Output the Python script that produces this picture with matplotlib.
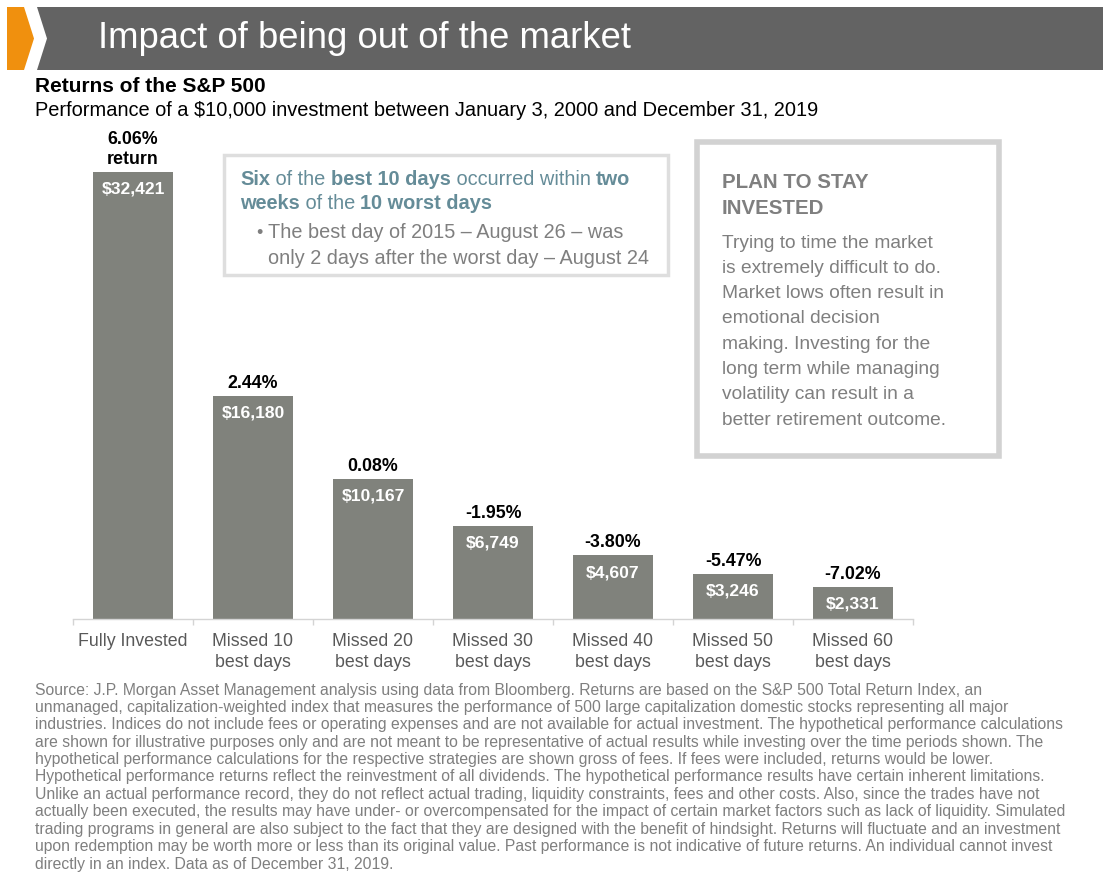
import matplotlib
matplotlib.use("Agg")
import matplotlib.pyplot as plt
from matplotlib import font_manager
from matplotlib.patches import Polygon, Rectangle

# ---- data ----
categories = ["Fully Invested", "Missed 10\nbest days", "Missed 20\nbest days",
              "Missed 30\nbest days", "Missed 40\nbest days", "Missed 50\nbest days",
              "Missed 60\nbest days"]
ending_values = [32421, 16180, 10167, 6749, 4607, 3246, 2331]
annual_returns = [6.06, 2.44, 0.08, -1.95, -3.80, -5.47, -7.02]

title = "Impact of being out of the market"
chart_title = "Returns of the S&P 500"
chart_subtitle = "Performance of a $10,000 investment between January 3, 2000 and December 31, 2019"

callout_lines = [
    [("Six", True), (" of the ", False), ("best 10 days", True),
     (" occurred within ", False), ("two", True)],
    [("weeks", True), (" of the ", False), ("10 worst days", True)],
]
callout_bullet = ["The best day of 2015 \u2013 August 26 \u2013 was",
                  "only 2 days after the worst day \u2013 August 24"]

plan_heading = ["PLAN TO STAY", "INVESTED"]
plan_body = ["Trying to time the market", "is extremely difficult to do.",
             "Market lows often result in", "emotional decision",
             "making. Investing for the", "long term while managing",
             "volatility can result in a", "better retirement outcome."]

footnote = [
    "Source: J.P. Morgan Asset Management analysis using data from Bloomberg. Returns are based on the S&P 500 Total Return Index, an",
    "unmanaged, capitalization-weighted index that measures the performance of 500 large capitalization domestic stocks representing all major",
    "industries. Indices do not include fees or operating expenses and are not available for actual investment. The hypothetical performance calculations",
    "are shown for illustrative purposes only and are not meant to be representative of actual results while investing over the time periods shown. The",
    "hypothetical performance calculations for the respective strategies are shown gross of fees. If fees were included, returns would be lower.",
    "Hypothetical performance returns reflect the reinvestment of all dividends. The hypothetical performance results have certain inherent limitations.",
    "Unlike an actual performance record, they do not reflect actual trading, liquidity constraints, fees and other costs. Also, since the trades have not",
    "actually been executed, the results may have under- or overcompensated for the impact of certain market factors such as lack of liquidity. Simulated",
    "trading programs in general are also subject to the fact that they are designed with the benefit of hindsight. Returns will fluctuate and an investment",
    "upon redemption may be worth more or less than its original value. Past performance is not indicative of future returns. An individual cannot invest",
    "directly in an index. Data as of December 31, 2019.",
]

# ---- styling ----
W, H = 1103, 873
BAR = "#80827c"
HEADER = "#636363"
ORANGE = "#f0900e"
TEAL = "#658c98"
GRAY_TXT = "#7f7f7f"
TICK_TXT = "#595959"

installed = {f.name for f in font_manager.fontManager.ttflist}
SANS = "Liberation Sans" if "Liberation Sans" in installed else "DejaVu Sans"
NARROW = "Liberation Sans Narrow" if "Liberation Sans Narrow" in installed else SANS
plt.rcParams["font.family"] = SANS

fig = plt.figure(figsize=(W / 100, H / 100), dpi=100)
fig.patch.set_facecolor("white")


def fx(x):
    return x / W


def fy(y):
    return 1 - y / H


def ptext(x, y, s, **kw):
    return fig.text(fx(x), fy(y), s, **kw)


# ---- header band ----
fig.patches.append(Polygon([(fx(7), fy(7)), (fx(24), fy(7)), (fx(34), fy(38.5)),
                            (fx(24), fy(70)), (fx(7), fy(70))],
                           closed=True, transform=fig.transFigure,
                           facecolor=ORANGE, edgecolor="none"))
fig.patches.append(Polygon([(fx(37), fy(7)), (fx(W), fy(7)), (fx(W), fy(70)),
                            (fx(37), fy(70)), (fx(47), fy(38.5))],
                           closed=True, transform=fig.transFigure,
                           facecolor=HEADER, edgecolor="none"))
title_size = 26.3 if NARROW == SANS else 31
ptext(98, 39, title, color="white", fontsize=title_size, family=NARROW,
      va="center", ha="left")

ptext(35, 87, chart_title, fontsize=15, fontweight="bold", color="black",
      va="center", ha="left")
ptext(35, 111, chart_subtitle, fontsize=14.4, color="black", va="center", ha="left")

# ---- bar chart ----
base_px, top_px = 619, 130
left_px, right_px = 73, 913
ax = fig.add_axes([fx(left_px), fy(base_px), (right_px - left_px) / W,
                   (base_px - top_px) / H])
px_per_dollar = (base_px - 172) / ending_values[0]
ymax = (base_px - top_px) / px_per_dollar
x = list(range(len(categories)))
ax.bar(x, ending_values, width=0.667, color=BAR, edgecolor="none", zorder=2)
ax.set_xlim(-0.5, len(categories) - 0.5)
ax.set_ylim(0, ymax)
for side in ("top", "right", "left"):
    ax.spines[side].set_visible(False)
ax.spines["bottom"].set_color("#d4d4d4")
ax.spines["bottom"].set_linewidth(1.0)
ax.set_yticks([])
ax.set_xticks(x)
ax.set_xticklabels(categories, fontsize=12.8, color=TICK_TXT, linespacing=1.3)
ax.tick_params(axis="x", which="major", length=0, pad=10)
ax.set_xticks([i - 0.5 for i in range(len(categories) + 1)], minor=True)
ax.tick_params(axis="x", which="minor", length=4, color="#d4d4d4", width=1.0)
ax.patch.set_alpha(0)

for i, (v, r) in enumerate(zip(ending_values, annual_returns)):
    pct = f"{r:.2f}%"
    if i == 0:
        pct += "\nreturn"
    ax.annotate(pct, (i, v), xytext=(0, 3), textcoords="offset points",
                ha="center", va="bottom", fontsize=12.8, fontweight="bold",
                color="black", linespacing=1.25)
    ax.annotate(f"${v:,}", (i, v), xytext=(0, -7), textcoords="offset points",
                ha="center", va="top", fontsize=12.6, fontweight="bold",
                color="white")

# ---- callout box (best / worst days) ----
fig.patches.append(Rectangle((fx(224), fy(275)), (668 - 224) / W, (275 - 155) / H,
                             transform=fig.transFigure, facecolor="white",
                             edgecolor="#dedede", linewidth=2.5, zorder=3))
fig.canvas.draw()
renderer = fig.canvas.get_renderer()
for row, pieces in enumerate(callout_lines):
    cx = 240
    cy = 180 + row * 23.5
    for s, bold in pieces:
        t = ptext(cx, cy, s, fontsize=14.4, color=TEAL, va="center", ha="left",
                  fontweight="bold" if bold else "normal", zorder=4)
        bb = t.get_window_extent(renderer)
        cx += bb.width
ptext(256, 233, "\u2022", fontsize=13, color=GRAY_TXT, va="center", ha="left", zorder=4)
for k, line in enumerate(callout_bullet):
    ptext(268, 233 + k * 25, line, fontsize=14.3, color=GRAY_TXT, va="center",
          ha="left", zorder=4)

# ---- plan box ----
fig.patches.append(Rectangle((fx(697), fy(456)), (999 - 697) / W, (456 - 142) / H,
                             transform=fig.transFigure, facecolor="white",
                             edgecolor="#d2d2d2", linewidth=4, zorder=3))
for k, line in enumerate(plan_heading):
    ptext(722, 183 + k * 25, line, fontsize=14.8, fontweight="bold", color=GRAY_TXT,
          va="center", ha="left", zorder=4)
for k, line in enumerate(plan_body):
    ptext(722, 243 + k * 25.3, line, fontsize=13.8, color=GRAY_TXT, va="center",
          ha="left", zorder=4)

# ---- footnote ----
for k, line in enumerate(footnote):
    ptext(35, 690 + k * 17.4, line, fontsize=11.3, color=GRAY_TXT, va="center",
          ha="left")

fig.savefig("out.png", dpi=100, facecolor="white")
